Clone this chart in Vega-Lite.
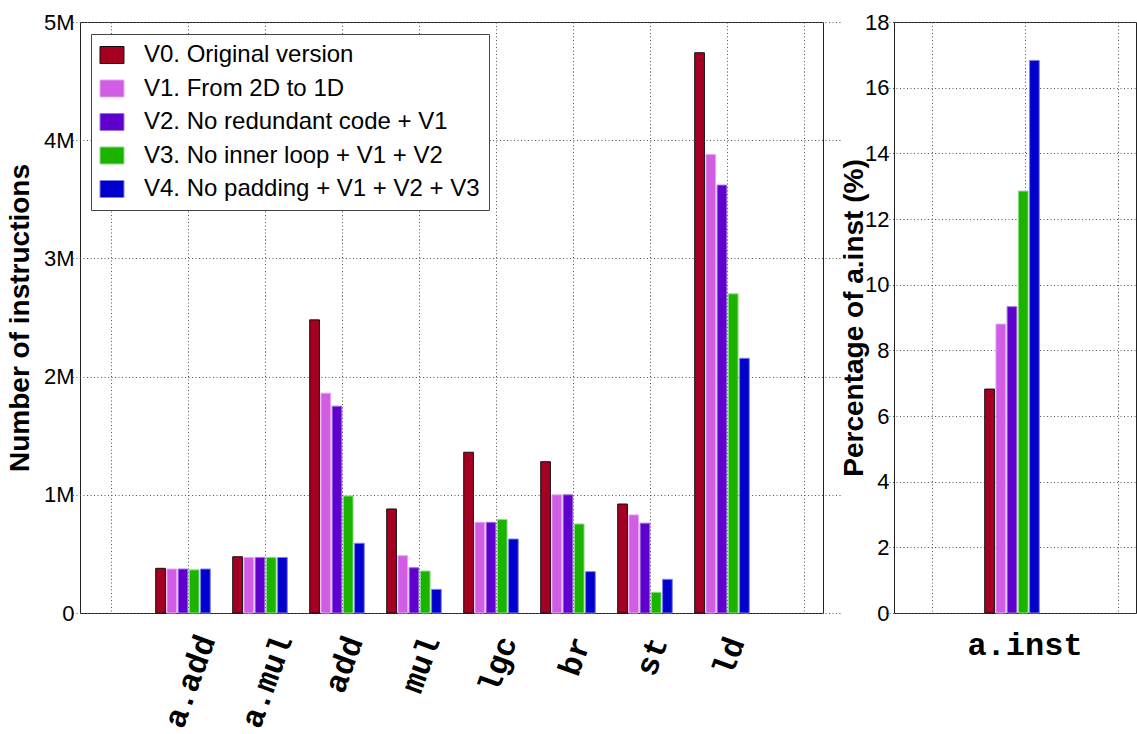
{
  "$schema": "https://vega.github.io/schema/vega-lite/v6.json",
  "background": "white",
  "padding": {"left": 5, "top": 10, "right": 0, "bottom": 0},
  "spacing": -11,
  "config": {
    "font": "Liberation Sans",
    "view": {"stroke": "#222", "strokeWidth": 1},
    "axis": {
      "labelFont": "Liberation Sans",
      "labelFontSize": 22,
      "labelColor": "#000",
      "titleFont": "Liberation Sans",
      "titleFontSize": 28,
      "titleFontWeight": "bold",
      "titleColor": "#000",
      "grid": true,
      "gridColor": "#555",
      "gridDash": [1, 2.5],
      "gridWidth": 1,
      "gridOpacity": 1,
      "domain": false,
      "ticks": false,
      "tickSize": 0
    }
  },
  "datasets": {
    "counts": [
      {"op": "a.add", "version": "V0. Original version", "count": 378000},
      {"op": "a.add", "version": "V1. From 2D to 1D", "count": 372000},
      {"op": "a.add", "version": "V2. No redundant code + V1", "count": 372000},
      {"op": "a.add", "version": "V3. No inner loop + V1 + V2", "count": 365000},
      {"op": "a.add", "version": "V4. No padding + V1 + V2 + V3", "count": 372000},
      {"op": "a.mul", "version": "V0. Original version", "count": 476000},
      {"op": "a.mul", "version": "V1. From 2D to 1D", "count": 470000},
      {"op": "a.mul", "version": "V2. No redundant code + V1", "count": 470000},
      {"op": "a.mul", "version": "V3. No inner loop + V1 + V2", "count": 470000},
      {"op": "a.mul", "version": "V4. No padding + V1 + V2 + V3", "count": 470000},
      {"op": "add", "version": "V0. Original version", "count": 2480000},
      {"op": "add", "version": "V1. From 2D to 1D", "count": 1860000},
      {"op": "add", "version": "V2. No redundant code + V1", "count": 1750000},
      {"op": "add", "version": "V3. No inner loop + V1 + V2", "count": 990000},
      {"op": "add", "version": "V4. No padding + V1 + V2 + V3", "count": 590000},
      {"op": "mul", "version": "V0. Original version", "count": 880000},
      {"op": "mul", "version": "V1. From 2D to 1D", "count": 485000},
      {"op": "mul", "version": "V2. No redundant code + V1", "count": 383000},
      {"op": "mul", "version": "V3. No inner loop + V1 + V2", "count": 355000},
      {"op": "mul", "version": "V4. No padding + V1 + V2 + V3", "count": 200000},
      {"op": "lgc", "version": "V0. Original version", "count": 1360000},
      {"op": "lgc", "version": "V1. From 2D to 1D", "count": 767000},
      {"op": "lgc", "version": "V2. No redundant code + V1", "count": 767000},
      {"op": "lgc", "version": "V3. No inner loop + V1 + V2", "count": 790000},
      {"op": "lgc", "version": "V4. No padding + V1 + V2 + V3", "count": 626000},
      {"op": "br", "version": "V0. Original version", "count": 1280000},
      {"op": "br", "version": "V1. From 2D to 1D", "count": 1000000},
      {"op": "br", "version": "V2. No redundant code + V1", "count": 1000000},
      {"op": "br", "version": "V3. No inner loop + V1 + V2", "count": 753000},
      {"op": "br", "version": "V4. No padding + V1 + V2 + V3", "count": 350000},
      {"op": "st", "version": "V0. Original version", "count": 922000},
      {"op": "st", "version": "V1. From 2D to 1D", "count": 830000},
      {"op": "st", "version": "V2. No redundant code + V1", "count": 760000},
      {"op": "st", "version": "V3. No inner loop + V1 + V2", "count": 175000},
      {"op": "st", "version": "V4. No padding + V1 + V2 + V3", "count": 285000},
      {"op": "ld", "version": "V0. Original version", "count": 4740000},
      {"op": "ld", "version": "V1. From 2D to 1D", "count": 3880000},
      {"op": "ld", "version": "V2. No redundant code + V1", "count": 3620000},
      {"op": "ld", "version": "V3. No inner loop + V1 + V2", "count": 2700000},
      {"op": "ld", "version": "V4. No padding + V1 + V2 + V3", "count": 2155000}
    ],
    "share": [
      {"op": "a.inst", "version": "V0. Original version", "pct": 6.82},
      {"op": "a.inst", "version": "V1. From 2D to 1D", "pct": 8.8},
      {"op": "a.inst", "version": "V2. No redundant code + V1", "pct": 9.33},
      {"op": "a.inst", "version": "V3. No inner loop + V1 + V2", "pct": 12.85},
      {"op": "a.inst", "version": "V4. No padding + V1 + V2 + V3", "pct": 16.83}
    ]
  },
  "resolve": {
    "scale": {"color": "independent", "stroke": "independent"},
    "legend": {"color": "independent", "stroke": "independent"}
  },
  "hconcat": [
    {
      "width": 743,
      "height": 591,
      "data": {"name": "counts"},
      "mark": {"type": "bar", "strokeWidth": 1},
      "encoding": {
        "x": {
          "field": "op",
          "type": "nominal",
          "sort": null,
          "scale": {
            "domain": ["", "a.add", "a.mul", "add", "mul", "lgc", "br", "st", "ld", " "],
            "range": [-7.5, 762.5],
            "paddingInner": 0,
            "paddingOuter": 0
          },
          "axis": {
            "title": null,
            "bandPosition": 0.5,
            "labelAngle": 290,
            "labelAlign": "center",
            "labelBaseline": "middle",
            "labelFont": "Liberation Mono",
            "labelFontWeight": "bold",
            "labelFontSize": 32,
            "labelOffset": 2,
            "labelOverlap": false,
            "labelPadding": {
              "condition": [
                {"test": "length(datum.label) == 5", "value": 68},
                {"test": "length(datum.label) == 3", "value": 51}
              ],
              "value": 43
            }
          }
        },
        "xOffset": {
          "field": "version",
          "type": "nominal",
          "scale": {"paddingInner": 0.136, "paddingOuter": 1.068, "align": 0.277}
        },
        "y": {
          "field": "count",
          "type": "quantitative",
          "scale": {"domain": [0, 5000000], "nice": false},
          "axis": {
            "title": "Number of instructions",
            "values": [0, 1000000, 2000000, 3000000, 4000000, 5000000],
            "labelExpr": "datum.value == 0 ? '0' : (datum.value / 1000000) + 'M'",
            "labelPadding": 6,
            "titlePadding": 9
          }
        },
        "color": {
          "field": "version",
          "type": "nominal",
          "scale": {
            "domain": ["V0. Original version", "V1. From 2D to 1D", "V2. No redundant code + V1", "V3. No inner loop + V1 + V2", "V4. No padding + V1 + V2 + V3"],
            "range": ["#a50021", "#d05de3", "#6000cc", "#19b300", "#0000cc"]
          },
          "legend": {
            "title": null,
            "orient": "none",
            "legendX": 11,
            "legendY": 12,
            "labelFont": "Liberation Sans",
            "labelFontSize": 24,
            "labelColor": "#000",
            "labelOffset": 20,
            "labelLimit": 600,
            "symbolType": "M-1.41,-1H1.41V1H-1.41Z",
            "symbolSize": 289,
            "symbolStrokeWidth": 1,
            "symbolOpacity": 1,
            "padding": 9,
            "rowPadding": 9.5,
            "fillColor": "white",
            "strokeColor": "#444",
            "cornerRadius": 0
          }
        },
        "stroke": {
          "field": "version",
          "type": "nominal",
          "scale": {
            "domain": ["V0. Original version", "V1. From 2D to 1D", "V2. No redundant code + V1", "V3. No inner loop + V1 + V2", "V4. No padding + V1 + V2 + V3"],
            "range": ["#111111", "#e7a6f0", "#9d73e0", "#8fd985", "#7f7fe8"]
          },
          "legend": {
            "title": null,
            "orient": "none",
            "legendX": 11,
            "legendY": 12,
            "labelFont": "Liberation Sans",
            "labelFontSize": 24,
            "labelColor": "#000",
            "labelOffset": 20,
            "labelLimit": 600,
            "symbolType": "M-1.41,-1H1.41V1H-1.41Z",
            "symbolSize": 289,
            "symbolStrokeWidth": 1,
            "symbolOpacity": 1,
            "padding": 9,
            "rowPadding": 9.5,
            "fillColor": "white",
            "strokeColor": "#444",
            "cornerRadius": 0
          }
        }
      }
    },
    {
      "width": 242,
      "height": 591,
      "data": {"name": "share"},
      "mark": {"type": "bar", "strokeWidth": 1},
      "encoding": {
        "x": {
          "field": "op",
          "type": "nominal",
          "sort": null,
          "scale": {
            "domain": ["", "a.inst", " "],
            "range": [-8.5, 270.5],
            "paddingInner": 0,
            "paddingOuter": 0
          },
          "axis": {
            "title": null,
            "bandPosition": 0.5,
            "labelAngle": 0,
            "labelAlign": "center",
            "labelBaseline": "middle",
            "labelFont": "Liberation Mono",
            "labelFontWeight": "bold",
            "labelFontSize": 32,
            "labelPadding": 31
          }
        },
        "xOffset": {
          "field": "version",
          "type": "nominal",
          "scale": {"paddingInner": 0.26, "paddingOuter": 1.074, "align": 0.293}
        },
        "y": {
          "field": "pct",
          "type": "quantitative",
          "scale": {"domain": [0, 18], "nice": false},
          "axis": {
            "title": "Percentage of a.inst (%)",
            "values": [0, 2, 4, 6, 8, 10, 12, 14, 16, 18],
            "labelPadding": 5,
            "titlePadding": -4
          }
        },
        "color": {
          "field": "version",
          "type": "nominal",
          "scale": {
            "domain": ["V0. Original version", "V1. From 2D to 1D", "V2. No redundant code + V1", "V3. No inner loop + V1 + V2", "V4. No padding + V1 + V2 + V3"],
            "range": ["#a50021", "#d05de3", "#6000cc", "#19b300", "#0000cc"]
          },
          "legend": null
        },
        "stroke": {
          "field": "version",
          "type": "nominal",
          "scale": {
            "domain": ["V0. Original version", "V1. From 2D to 1D", "V2. No redundant code + V1", "V3. No inner loop + V1 + V2", "V4. No padding + V1 + V2 + V3"],
            "range": ["#111111", "#e7a6f0", "#9d73e0", "#8fd985", "#7f7fe8"]
          },
          "legend": null
        }
      }
    }
  ]
}
